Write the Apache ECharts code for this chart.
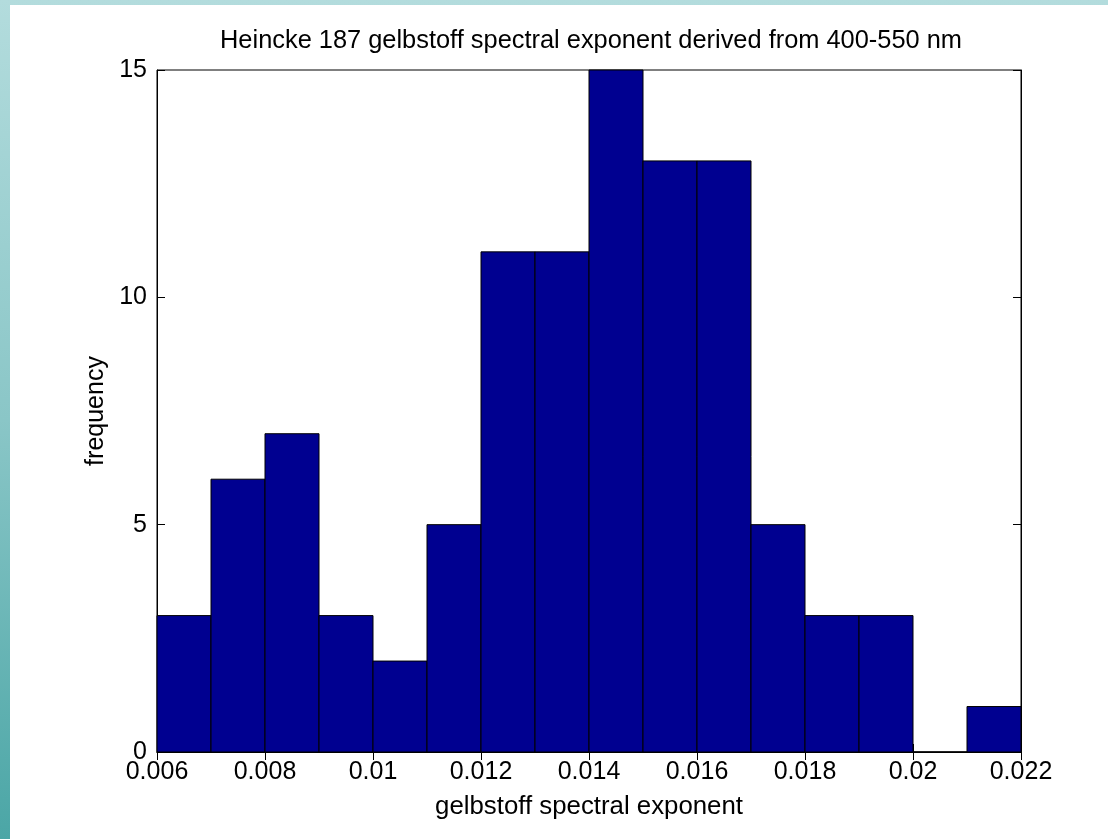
<!DOCTYPE html>
<html><head><meta charset="utf-8">
<script src="https://cdn.jsdelivr.net/npm/echarts@6/dist/echarts.min.js"></script>
<style>
html,body{margin:0;padding:0;width:1108px;height:839px;overflow:hidden;}
body{background:linear-gradient(to bottom,#b3dcdd 0%,#8ac6c7 50%,#4ba6a6 100%);position:relative;}
#bg{position:absolute;left:10px;top:5px;right:0;bottom:0;background:#fff;}
#c{position:absolute;left:0;top:0;width:1108px;height:839px;}
</style></head><body>
<div id="bg"></div>
<div id="c"></div>
<script>
const binEdges = [0.006,0.007,0.008,0.009,0.010,0.011,0.012,0.013,0.014,0.015,0.016,0.017,0.018,0.019,0.020,0.021,0.022];
const counts = [3,6,7,3,2,5,11,11,15,13,13,5,3,3,0,1];
const xTicks = [0.006,0.008,0.01,0.012,0.014,0.016,0.018,0.02,0.022];
const yTicks = [0,5,10,15];
const titleText = 'Heincke 187 gelbstoff spectral exponent derived from 400-550 nm';
const xName = 'gelbstoff spectral exponent';
const yName = 'frequency';

const data = counts.map((c,i)=>[binEdges[i],binEdges[i+1],c]);
const font = 'Liberation Sans, Arial, sans-serif';
const chart = echarts.init(document.getElementById('c'));
const fmt = v => { const r = Math.round(v*1000)/1000; return String(r); };
chart.setOption({
  backgroundColor:'transparent',
  animation:false,
  title:{text:titleText,left:586,top:23,textAlign:'center',textStyle:{fontFamily:font,fontSize:25.4,fontWeight:'normal',color:'#000'}},
  grid:{left:157,top:70,right:87,bottom:87,show:true,borderColor:'#000',borderWidth:1,backgroundColor:'transparent'},
  xAxis:[{type:'value',min:0.006,max:0.022,interval:0.002,
    name:xName,nameLocation:'middle',nameGap:42,nameTextStyle:{fontFamily:font,fontSize:25.8,color:'#000'},
    axisLine:{show:true,lineStyle:{color:'#000',width:1}},
    axisTick:{show:true,inside:true,length:8,lineStyle:{color:'#000'}},
    axisLabel:{fontFamily:font,fontSize:25,color:'#000',margin:8,formatter:fmt},
    splitLine:{show:false}},
    {type:'value',position:'top',min:0.006,max:0.022,interval:0.002,
    axisLine:{show:true,lineStyle:{color:'#000'}},
    axisTick:{show:true,inside:true,length:8,lineStyle:{color:'#000'}},
    axisLabel:{show:false},splitLine:{show:false}}],
  yAxis:[{type:'value',min:0,max:15,interval:5,
    name:yName,nameLocation:'middle',nameGap:45,nameTextStyle:{fontFamily:font,fontSize:25,color:'#000'},
    axisLine:{show:true,lineStyle:{color:'#000'}},
    axisTick:{show:true,inside:true,length:8,lineStyle:{color:'#000'}},
    axisLabel:{fontFamily:font,fontSize:25,color:'#000',margin:10},
    splitLine:{show:false}},
    {type:'value',position:'right',min:0,max:15,interval:5,
    axisLine:{show:true,lineStyle:{color:'#000'}},
    axisTick:{show:true,inside:true,length:8,lineStyle:{color:'#000'}},
    axisLabel:{show:false},splitLine:{show:false}}],
  series:[{type:'custom',xAxisIndex:0,yAxisIndex:0,data:data,
    encode:{x:[0,1],y:2},
    renderItem:function(params,api){
      const p0 = api.coord([api.value(0),0]);
      const p1 = api.coord([api.value(1),api.value(2)]);
      return {type:'rect',shape:{x:p0[0],y:p1[1],width:p1[0]-p0[0],height:p0[1]-p1[1]},
        style:{fill:'#000090',stroke:'#000',lineWidth:1}};
    }}]
});
</script>
</body></html>
